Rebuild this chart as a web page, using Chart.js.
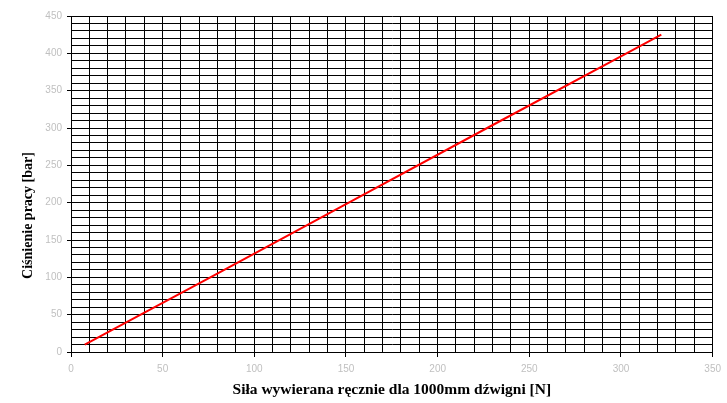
<!DOCTYPE html>
<html>
<head>
<meta charset="utf-8">
<script src="https://cdn.jsdelivr.net/npm/chart.js@4"></script>
<style>
body{margin:0;background:#fff;}
</style>
</head>
<body>
<canvas id="chart" width="727" height="403"></canvas>
<script>
// values
const forceN = [7.5, 38, 76, 151.5, 227, 303, 322];
const pressureBar = [10, 50, 100, 200, 300, 400, 425];
const xTitle = "Siła wywierana ręcznie dla 1000mm dźwigni [N]";
const yTitle = "Ciśnienie pracy [bar]";

const tickFont = {family:"Liberation Sans", size:10};
const major = v => v % 50 === 0;

let c = document.getElementById("chart").getContext("2d");
let chart = new Chart(c, {
    type:"line",
    data:{datasets:[{
        data: forceN.map((f,i)=>({x:f, y:pressureBar[i]})),
        borderColor:"#ff0000", borderWidth:2, pointRadius:0, fill:false, tension:0
    }]},
    options:{
        responsive:false, animation:false,
        layout:{padding:{top:16, right:11, left:0, bottom:0}},
        plugins:{legend:{display:false}, tooltip:{enabled:false}},
        scales:{
            x:{
                type:"linear", min:0, max:350,
                afterFit: s=>{s.height = 51;},
                border:{color:"#000", width:1},
                grid:{color:"#000", lineWidth:1, tickLength:5,
                      tickColor: ctx=>major(ctx.tick.value) ? "#000" : "rgba(0,0,0,0)"},
                ticks:{stepSize:10, autoSkip:false, maxRotation:0, padding:6,
                       color:"#c0c0c0", font:tickFont,
                       callback: v=>major(v) ? v : ""},
                title:{display:true, text:xTitle, color:"#000",
                       font:{family:"Liberation Serif", size:15.5, weight:"bold"},
                       padding:{top:0, bottom:4}}
            },
            y:{
                min:0, max:450,
                afterFit: s=>{s.width = 71;},
                border:{color:"#000", width:1},
                grid:{color:"#000", lineWidth:1, tickLength:4,
                      tickColor: ctx=>major(ctx.tick.value) ? "#000" : "rgba(0,0,0,0)"},
                ticks:{stepSize:10, autoSkip:false, padding:5,
                       color:"#c0c0c0", font:tickFont,
                       callback: v=>major(v) ? v : ""},
                title:{display:true, text:yTitle + " ".repeat(18), color:"#000",
                       font:{family:"Liberation Serif", size:14, weight:"bold"},
                       padding:{top:20, bottom:0}}
            }
        }
    }
});
</script>
</body>
</html>
